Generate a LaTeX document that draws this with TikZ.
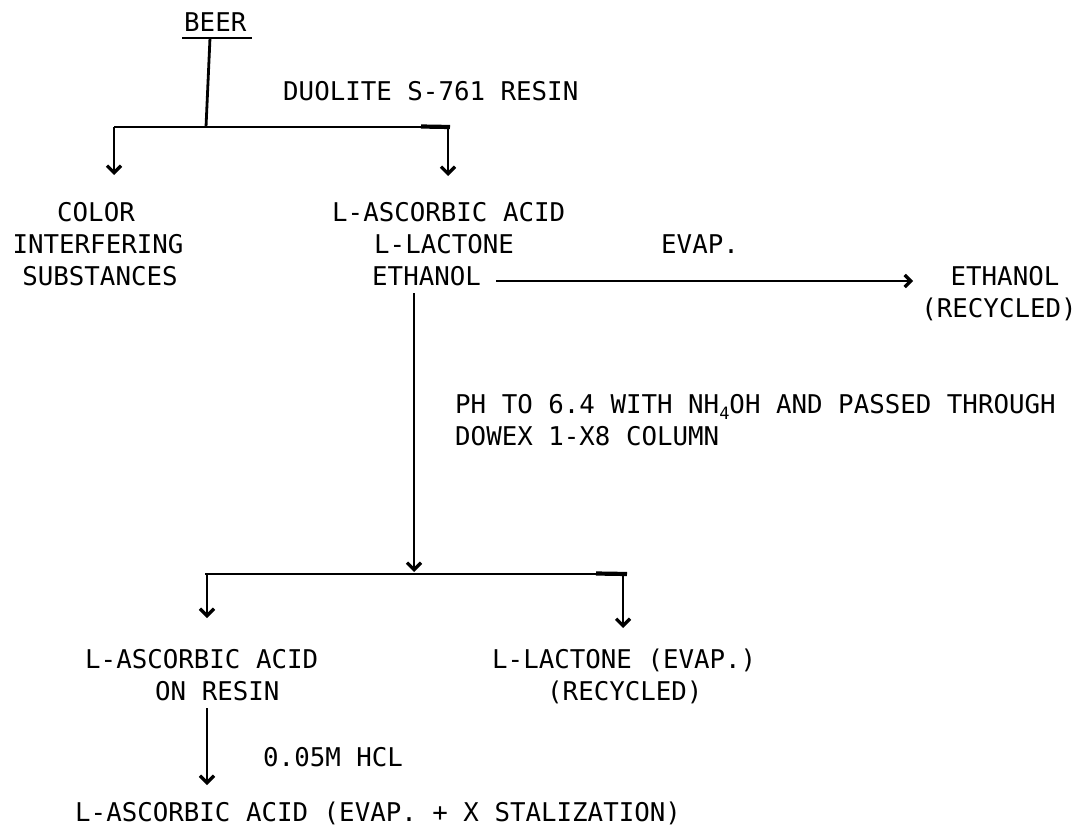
\documentclass[tikz,border=0pt]{standalone}
\usepackage{fontspec}
\setmainfont{DejaVu Sans Mono}
\usetikzlibrary{arrows.meta}
\begin{document}
\begin{tikzpicture}[x=1pt,y=-1pt,
  every node/.style={font=\fontsize{25.8}{30}\selectfont, inner sep=0pt,
    text height=18.8pt, text depth=0pt},
  lbl/.style={anchor=west},
  mid/.style={anchor=center},
  wire/.style={line width=2.8pt},
  arr/.style={wire,-{Straight Barb[length=7pt,width=14pt,line width=3.2pt]}},
  sidearr/.style={wire,-{Straight Barb[length=6pt,width=12pt,line width=3.2pt]}},
]
\fill[white] (0,0) rectangle (1087,840);
\useasboundingbox (0,0) rectangle (1087,840);

% --- feed and first resin split ---
\node[lbl] (beer) at (184,22) {BEER};
\coordinate (ulL) at (182,38);
\coordinate (ulR) at (252,38);
\draw[wire] (ulL) -- (ulR);
\coordinate (stemtop) at (210,38);
\coordinate (split1) at (206,127);
\draw[wire] (stemtop) -- (split1);

\node[lbl] (resin1) at (283,91) {DUOLITE S-761 RESIN};

\coordinate (barL) at (114,127);
\coordinate (barR) at (450,127);
\draw[wire] (barL) -- (barR);
\coordinate (stubA) at (421,126.5);
\draw[line width=4.2pt] (stubA) -- (barR);

\coordinate (tipL) at (114,175);
\coordinate (dropR) at (448,127);
\coordinate (tipR) at (448,176);
\draw[arr] (barL) -- (tipL);
\draw[arr] (dropR) -- (tipR);

% --- first products ---
\node[mid] (color) at (96,212) {COLOR};
\node[mid] (interf) at (98,244) {INTERFERING};
\node[mid] (subst) at (100,276) {SUBSTANCES};

\node[lbl] (asc1) at (332,212) {L-ASCORBIC ACID};
\node[lbl] (lact1) at (374,244) {L-LACTONE};
\node[lbl] (eth1) at (372,276) {ETHANOL};

% --- ethanol recovery ---
\node[lbl] (evap) at (661,244) {EVAP.};
\node[mid] (eth2) at (1005,276) {ETHANOL};
\node[mid] (rec1) at (999,308) {(RECYCLED)};
\coordinate (evS) at (496,281);
\coordinate (evE) at (913,281);
\draw[sidearr] (evS) -- (evE);

% --- ion exchange step ---
\coordinate (st2top) at (414,293);
\coordinate (join2) at (414,572);
\draw[arr] (st2top) -- (join2);
\node[lbl] (ph) at (455,404) {PH TO 6.4 WITH NH\raisebox{-6pt}{\fontsize{17}{17}\selectfont 4}OH AND PASSED THROUGH};
\node[lbl] (dowex) at (455,436) {DOWEX 1-X8 COLUMN};

\coordinate (bar2L) at (205,574);
\coordinate (bar2R) at (627,574);
\draw[wire] (bar2L) -- (bar2R);
\coordinate (stubB) at (596,573.5);
\draw[line width=4.2pt] (stubB) -- (bar2R);

\coordinate (d2L) at (207,574);
\coordinate (t2L) at (207,618);
\coordinate (d2R) at (623,574);
\coordinate (t2R) at (623,628);
\draw[arr] (d2L) -- (t2L);
\draw[arr] (d2R) -- (t2R);

% --- second products ---
\node[lbl] (asc2) at (85,659) {L-ASCORBIC ACID};
\node[lbl] (onres) at (155,691) {ON RESIN};
\node[lbl] (lact2) at (492,659) {L-LACTONE (EVAP.)};
\node[lbl] (rec2) at (547,691) {(RECYCLED)};

% --- elution ---
\coordinate (elS) at (207,708);
\coordinate (elE) at (207,785);
\draw[arr] (elS) -- (elE);
\node[lbl] (hcl) at (263,757) {0.05M HCL};
\node[lbl] (final) at (75,812) {L-ASCORBIC ACID (EVAP. + X STALIZATION)};
\end{tikzpicture}
\end{document}
